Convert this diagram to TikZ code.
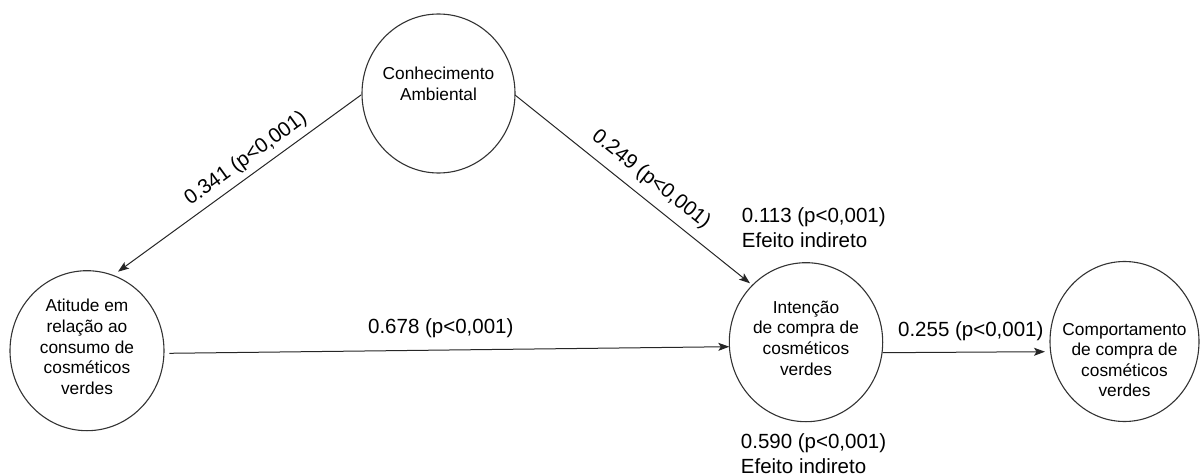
\documentclass[tikz,border=0pt]{standalone}
\usepackage{fontspec}
\setmainfont{Liberation Sans}
\usetikzlibrary{shapes.geometric,arrows.meta,calc}
\begin{document}
\begin{tikzpicture}[x=1pt,y=1pt,
  var/.style={ellipse, draw=black!80, line width=1.1pt, inner sep=0pt},
  vtext/.style={align=center, font=\fontsize{17.3}{20.6}\selectfont, inner sep=0pt},
  lab/.style={font=\fontsize{20.5}{25}\selectfont, inner sep=0pt},
  arr/.style={draw=black!85, line width=1pt, -{Stealth[length=11pt,width=8pt,inset=2.5pt]}}]
\useasboundingbox (0,0) rectangle (1200,475);
% variables
\node[var, minimum width=153pt, minimum height=159pt] (conh) at (438.5,381.5) {};
\node[var, minimum width=154pt, minimum height=160pt] (atit) at (87,124.3) {};
\node[var, minimum width=153.4pt, minimum height=159pt] (inten) at (806,132.8) {};
\node[var, minimum width=149pt, minimum height=160pt] (comp) at (1124.5,133.5) {};
% texts
\node[vtext] (conhT) at (438.5,391) {Conhecimento\\Ambiental};
\node[vtext] (atitT) at (87,128) {Atitude em\\relação ao\\consumo de\\cosméticos\\verdes};
\node[vtext] (intenT) at (806,137) {Intenção\\de compra de\\cosméticos\\verdes};
\node[vtext] (compT) at (1124.5,115) {Comportamento\\de compra de\\cosméticos\\verdes};
% connectors
\draw[arr] ($(conh.center)+(-77.5,-1.5)$) -- ($(atit.center)+(31,79)$);
\draw[arr] ($(conh.center)+(76.5,-1.5)$) -- ($(inten.center)+(-56,58.9)$);
\draw[arr] ($(atit.center)+(82.3,-2.6)$) -- ($(inten.center)+(-76.7,-4.5)$);
\draw[arr] ($(inten.center)+(76.7,-10.5)$) -- ($(comp.center)+(-79.5,-10.2)$);
% labels
\node[lab, anchor=base] (l678) at (440.8,141.7) {0.678 (p<0,001)};
\node[lab, anchor=base] (l255) at (970.8,138.3) {0.255 (p<0,001)};
\node[lab, anchor=base west] (l113) at (741.7,252.3) {0.113 (p<0,001)};
\node[lab, anchor=base west] (l113b) at (741.7,227.5) {Efeito indireto};
\node[lab, anchor=base west] (l590) at (740.7,26.7) {0.590 (p<0,001)};
\node[lab, anchor=base west] (l590b) at (740.7,2) {Efeito indireto};
\node[lab, rotate=36] (l341) at (246,316) {0.341 (p<0,001)};
\node[lab, rotate=-38.7] (l249) at (651,295.5) {0.249 (p<0,001)};
\end{tikzpicture}
\end{document}
